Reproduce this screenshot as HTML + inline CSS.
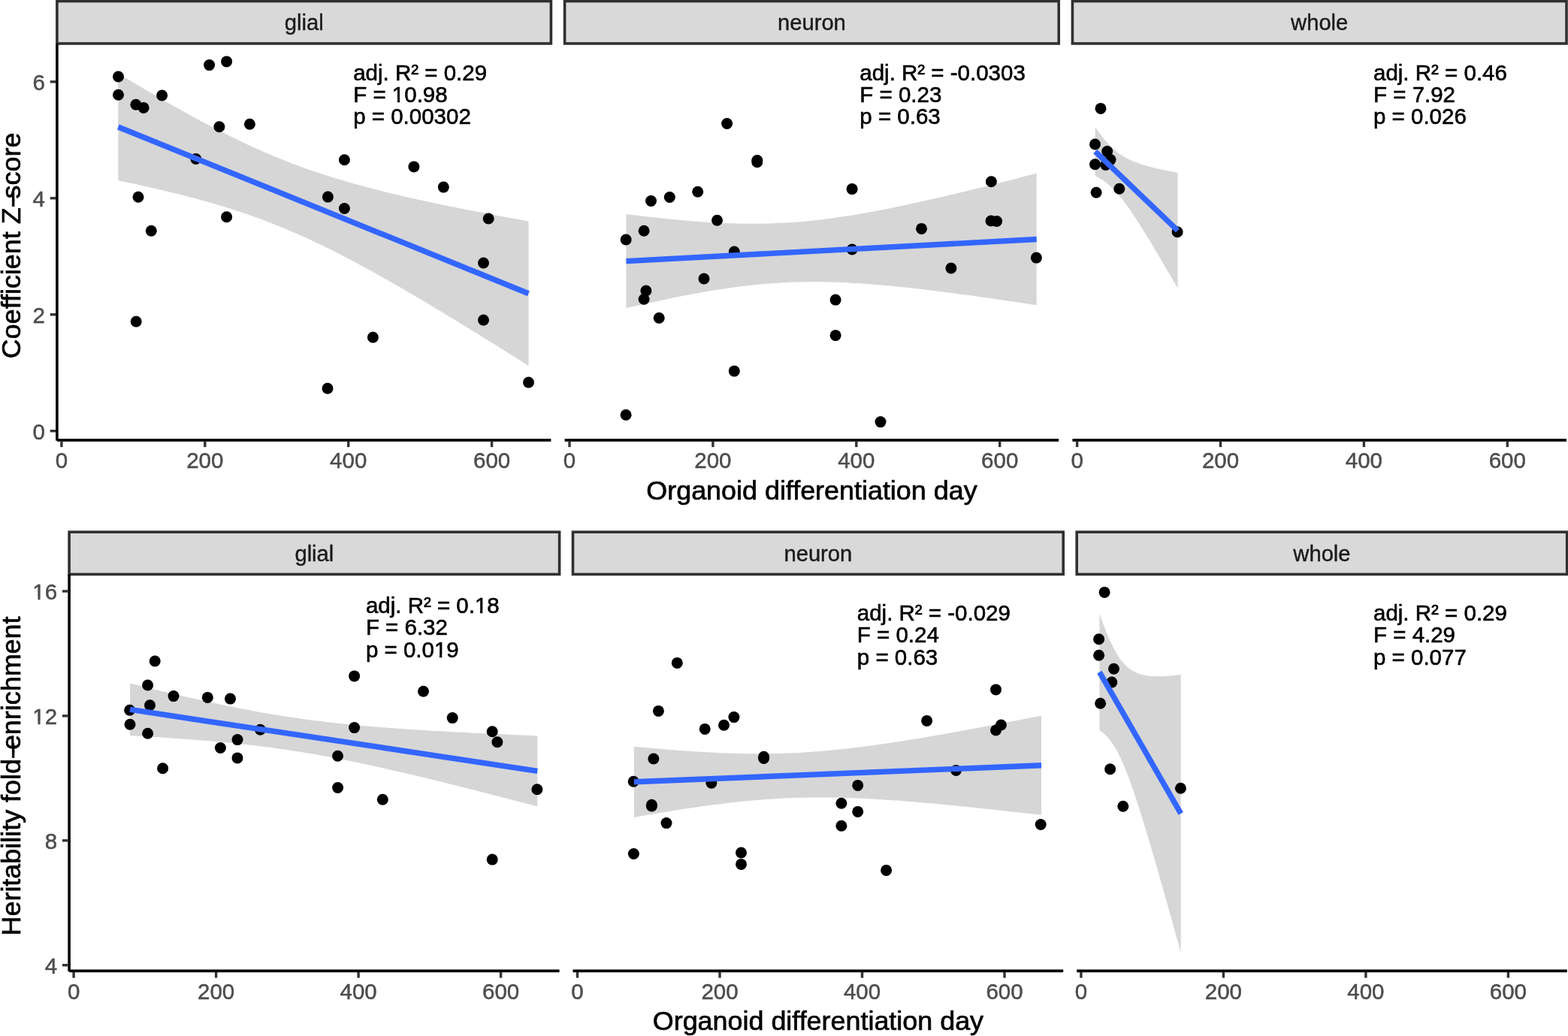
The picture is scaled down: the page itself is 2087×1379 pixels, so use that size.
<!DOCTYPE html>
<html lang="en"><head><meta charset="utf-8"><title>Organoid differentiation day regression panels</title>
<style>
html,body{margin:0;padding:0;background:#fff;}
body{width:2087px;height:1379px;overflow:hidden;}
svg{display:block;font-family:"Liberation Sans",sans-serif;}
</style></head><body>
<svg width="2087" height="1379" viewBox="0 0 2087 1379">
<rect width="2087" height="1379" fill="#fff"/>
<polygon points="157.3,97.8 164.2,101.9 171.1,106.1 178.0,110.2 185.0,114.3 191.9,118.4 198.8,122.5 205.7,126.5 212.6,130.5 219.5,134.5 226.4,138.4 233.4,142.3 240.3,146.2 247.2,150.1 254.1,153.9 261.0,157.7 267.9,161.4 274.8,165.1 281.8,168.7 288.7,172.3 295.6,175.8 302.5,179.3 309.4,182.7 316.3,186.1 323.2,189.4 330.1,192.7 337.1,195.9 344.0,199.0 350.9,202.0 357.8,205.0 364.7,207.9 371.6,210.8 378.5,213.6 385.5,216.3 392.4,218.9 399.3,221.5 406.2,224.0 413.1,226.4 420.0,228.8 426.9,231.1 433.9,233.3 440.8,235.5 447.7,237.7 454.6,239.8 461.5,241.8 468.4,243.8 475.3,245.7 482.3,247.6 489.2,249.4 496.1,251.3 503.0,253.0 509.9,254.8 516.8,256.5 523.7,258.1 530.7,259.8 537.6,261.4 544.5,262.9 551.4,264.5 558.3,266.0 565.2,267.5 572.1,269.0 579.0,270.5 586.0,272.0 592.9,273.4 599.8,274.8 606.7,276.2 613.6,277.6 620.5,278.9 627.4,280.3 634.4,281.6 641.3,283.0 648.2,284.3 655.1,285.6 662.0,286.9 668.9,288.2 675.8,289.5 682.8,290.7 689.7,292.0 696.6,293.3 703.5,294.5 703.5,486.9 696.6,482.5 689.7,478.2 682.8,473.8 675.8,469.5 668.9,465.1 662.0,460.8 655.1,456.5 648.2,452.2 641.3,447.9 634.4,443.6 627.4,439.4 620.5,435.1 613.6,430.9 606.7,426.6 599.8,422.4 592.9,418.2 586.0,414.0 579.0,409.9 572.1,405.7 565.2,401.6 558.3,397.5 551.4,393.4 544.5,389.4 537.6,385.3 530.7,381.3 523.7,377.4 516.8,373.4 509.9,369.5 503.0,365.6 496.1,361.8 489.2,358.0 482.3,354.2 475.3,350.5 468.4,346.8 461.5,343.2 454.6,339.6 447.7,336.1 440.8,332.6 433.9,329.2 426.9,325.8 420.0,322.5 413.1,319.3 406.2,316.1 399.3,313.0 392.4,309.9 385.5,307.0 378.5,304.1 371.6,301.2 364.7,298.5 357.8,295.8 350.9,293.1 344.0,290.6 337.1,288.1 330.1,285.6 323.2,283.3 316.3,281.0 309.4,278.7 302.5,276.5 295.6,274.4 288.7,272.3 281.8,270.3 274.8,268.3 267.9,266.4 261.0,264.5 254.1,262.7 247.2,260.9 240.3,259.1 233.4,257.4 226.4,255.7 219.5,254.0 212.6,252.4 205.7,250.8 198.8,249.2 191.9,247.7 185.0,246.1 178.0,244.6 171.1,243.2 164.2,241.7 157.3,240.2" fill="#d6d6d6"/>
<circle cx="157.5" cy="102.0" r="7.5" fill="#000"/>
<circle cx="157.5" cy="126.3" r="7.5" fill="#000"/>
<circle cx="180.9" cy="139.2" r="7.5" fill="#000"/>
<circle cx="191.1" cy="143.4" r="7.5" fill="#000"/>
<circle cx="215.6" cy="127.0" r="7.5" fill="#000"/>
<circle cx="278.6" cy="86.6" r="7.5" fill="#000"/>
<circle cx="301.6" cy="81.9" r="7.5" fill="#000"/>
<circle cx="291.9" cy="168.7" r="7.5" fill="#000"/>
<circle cx="332.4" cy="165.2" r="7.5" fill="#000"/>
<circle cx="260.7" cy="211.5" r="7.5" fill="#000"/>
<circle cx="184.0" cy="262.3" r="7.5" fill="#000"/>
<circle cx="458.4" cy="212.7" r="7.5" fill="#000"/>
<circle cx="550.9" cy="221.9" r="7.5" fill="#000"/>
<circle cx="590.3" cy="249.1" r="7.5" fill="#000"/>
<circle cx="436.4" cy="262.1" r="7.5" fill="#000"/>
<circle cx="458.4" cy="277.5" r="7.5" fill="#000"/>
<circle cx="201.3" cy="307.2" r="7.5" fill="#000"/>
<circle cx="301.6" cy="288.8" r="7.5" fill="#000"/>
<circle cx="181.2" cy="428.0" r="7.5" fill="#000"/>
<circle cx="650.2" cy="291.0" r="7.5" fill="#000"/>
<circle cx="643.5" cy="350.0" r="7.5" fill="#000"/>
<circle cx="643.5" cy="426.0" r="7.5" fill="#000"/>
<circle cx="496.4" cy="449.0" r="7.5" fill="#000"/>
<circle cx="436.0" cy="517.0" r="7.5" fill="#000"/>
<circle cx="703.5" cy="509.0" r="7.5" fill="#000"/>
<line x1="157.3" y1="169.0" x2="703.5" y2="390.7" stroke="#3366ff" stroke-width="7.4"/>
<rect x="75.9" y="1.55" width="657.5" height="56.4" fill="#d9d9d9" stroke="#303030" stroke-width="3.6"/>
<g transform="translate(404.65,40.00)"><text font-size="29.2" fill="#1a1a1a" stroke="#1a1a1a" stroke-width="0.4" text-anchor="middle">glial</text></g>
<line x1="75.9" y1="585.9" x2="733.4" y2="585.9" stroke="#000" stroke-width="3.6"/>
<line x1="81.9" y1="587.5" x2="81.9" y2="595.1" stroke="#333" stroke-width="3.4"/>
<g transform="translate(81.90,622.80) scale(1,1.03)"><text font-size="29.5" fill="#4d4d4d" stroke="#4d4d4d" stroke-width="0.5" text-anchor="middle">0</text></g>
<line x1="272.8" y1="587.5" x2="272.8" y2="595.1" stroke="#333" stroke-width="3.4"/>
<g transform="translate(272.80,622.80) scale(1,1.03)"><text font-size="29.5" fill="#4d4d4d" stroke="#4d4d4d" stroke-width="0.5" text-anchor="middle">200</text></g>
<line x1="463.7" y1="587.5" x2="463.7" y2="595.1" stroke="#333" stroke-width="3.4"/>
<g transform="translate(463.70,622.80) scale(1,1.03)"><text font-size="29.5" fill="#4d4d4d" stroke="#4d4d4d" stroke-width="0.5" text-anchor="middle">400</text></g>
<line x1="654.6" y1="587.5" x2="654.6" y2="595.1" stroke="#333" stroke-width="3.4"/>
<g transform="translate(654.60,622.80) scale(1,1.03)"><text font-size="29.5" fill="#4d4d4d" stroke="#4d4d4d" stroke-width="0.5" text-anchor="middle">600</text></g>
<g transform="translate(470.20,106.70) scale(1,1.03)"><text font-size="29.5" fill="#000" stroke="#000" stroke-width="0.6" text-anchor="start">adj. R² = 0.29</text></g>
<g transform="translate(470.20,135.60) scale(1,1.03)"><text font-size="29.5" fill="#000" stroke="#000" stroke-width="0.6" text-anchor="start">F = 10.98</text><rect x="52.50" y="-3.76" width="6.16" height="5.31" fill="#fff"/><rect x="61.99" y="-3.76" width="5.93" height="5.31" fill="#fff"/></g>
<g transform="translate(470.20,165.30) scale(1,1.03)"><text font-size="29.5" fill="#000" stroke="#000" stroke-width="0.6" text-anchor="start">p = 0.00302</text></g>
<polygon points="833.4,285.0 840.3,285.9 847.2,286.7 854.1,287.6 861.1,288.4 868.0,289.1 874.9,289.9 881.8,290.6 888.7,291.4 895.6,292.0 902.6,292.7 909.5,293.3 916.4,293.9 923.3,294.5 930.2,295.0 937.1,295.5 944.0,296.0 951.0,296.4 957.9,296.7 964.8,297.0 971.7,297.3 978.6,297.5 985.5,297.7 992.4,297.8 999.4,297.8 1006.3,297.8 1013.2,297.7 1020.1,297.6 1027.0,297.4 1033.9,297.1 1040.9,296.8 1047.8,296.4 1054.7,296.0 1061.6,295.5 1068.5,294.9 1075.4,294.2 1082.3,293.5 1089.3,292.8 1096.2,291.9 1103.1,291.1 1110.0,290.1 1116.9,289.1 1123.8,288.1 1130.8,287.0 1137.7,285.9 1144.6,284.7 1151.5,283.5 1158.4,282.3 1165.3,281.0 1172.2,279.7 1179.2,278.3 1186.1,276.9 1193.0,275.5 1199.9,274.1 1206.8,272.6 1213.7,271.1 1220.7,269.6 1227.6,268.1 1234.5,266.5 1241.4,264.9 1248.3,263.3 1255.2,261.7 1262.1,260.1 1269.1,258.5 1276.0,256.8 1282.9,255.2 1289.8,253.5 1296.7,251.8 1303.6,250.1 1310.5,248.4 1317.5,246.6 1324.4,244.9 1331.3,243.2 1338.2,241.4 1345.1,239.7 1352.0,237.9 1359.0,236.1 1365.9,234.3 1372.8,232.5 1379.7,230.7 1379.7,406.3 1372.8,405.2 1365.9,404.1 1359.0,403.1 1352.0,402.1 1345.1,401.0 1338.2,400.0 1331.3,399.0 1324.4,398.0 1317.5,397.0 1310.5,396.0 1303.6,395.0 1296.7,394.1 1289.8,393.1 1282.9,392.2 1276.0,391.2 1269.1,390.3 1262.1,389.4 1255.2,388.5 1248.3,387.7 1241.4,386.8 1234.5,386.0 1227.6,385.1 1220.7,384.3 1213.7,383.6 1206.8,382.8 1199.9,382.1 1193.0,381.4 1186.1,380.7 1179.2,380.1 1172.2,379.4 1165.3,378.9 1158.4,378.3 1151.5,377.8 1144.6,377.3 1137.7,376.9 1130.8,376.5 1123.8,376.1 1116.9,375.8 1110.0,375.6 1103.1,375.4 1096.2,375.3 1089.3,375.2 1082.3,375.1 1075.4,375.2 1068.5,375.3 1061.6,375.4 1054.7,375.6 1047.8,375.9 1040.9,376.3 1033.9,376.7 1027.0,377.2 1020.1,377.7 1013.2,378.3 1006.3,379.0 999.4,379.7 992.4,380.5 985.5,381.3 978.6,382.2 971.7,383.2 964.8,384.2 957.9,385.2 951.0,386.3 944.0,387.5 937.1,388.6 930.2,389.9 923.3,391.1 916.4,392.4 909.5,393.8 902.6,395.1 895.6,396.5 888.7,397.9 881.8,399.4 874.9,400.9 868.0,402.4 861.1,403.9 854.1,405.4 847.2,407.0 840.3,408.6 833.4,410.2" fill="#d6d6d6"/>
<circle cx="967.6" cy="164.5" r="7.5" fill="#000"/>
<circle cx="1007.8" cy="213.6" r="7.5" fill="#000"/>
<circle cx="1007.8" cy="215.8" r="7.5" fill="#000"/>
<circle cx="928.7" cy="255.3" r="7.5" fill="#000"/>
<circle cx="891.3" cy="262.5" r="7.5" fill="#000"/>
<circle cx="866.5" cy="267.5" r="7.5" fill="#000"/>
<circle cx="1134.1" cy="251.6" r="7.5" fill="#000"/>
<circle cx="1319.4" cy="241.7" r="7.5" fill="#000"/>
<circle cx="954.5" cy="293.3" r="7.5" fill="#000"/>
<circle cx="857.1" cy="307.2" r="7.5" fill="#000"/>
<circle cx="833.2" cy="319.0" r="7.5" fill="#000"/>
<circle cx="977.3" cy="335.0" r="7.5" fill="#000"/>
<circle cx="937.0" cy="371.0" r="7.5" fill="#000"/>
<circle cx="859.9" cy="387.0" r="7.5" fill="#000"/>
<circle cx="857.1" cy="398.3" r="7.5" fill="#000"/>
<circle cx="877.2" cy="423.3" r="7.5" fill="#000"/>
<circle cx="977.3" cy="493.9" r="7.5" fill="#000"/>
<circle cx="1134.1" cy="332.0" r="7.5" fill="#000"/>
<circle cx="1226.5" cy="304.4" r="7.5" fill="#000"/>
<circle cx="1319.0" cy="294.0" r="7.5" fill="#000"/>
<circle cx="1326.6" cy="294.5" r="7.5" fill="#000"/>
<circle cx="1265.9" cy="357.0" r="7.5" fill="#000"/>
<circle cx="1379.4" cy="343.1" r="7.5" fill="#000"/>
<circle cx="1112.1" cy="399.1" r="7.5" fill="#000"/>
<circle cx="1112.1" cy="446.4" r="7.5" fill="#000"/>
<circle cx="833.1" cy="552.3" r="7.5" fill="#000"/>
<circle cx="1172.0" cy="561.6" r="7.5" fill="#000"/>
<line x1="833.4" y1="347.6" x2="1379.7" y2="318.5" stroke="#3366ff" stroke-width="7.4"/>
<rect x="751.6" y="1.55" width="657.6" height="56.4" fill="#d9d9d9" stroke="#303030" stroke-width="3.6"/>
<g transform="translate(1080.40,40.00)"><text font-size="29.2" fill="#1a1a1a" stroke="#1a1a1a" stroke-width="0.4" text-anchor="middle">neuron</text></g>
<line x1="751.6" y1="585.9" x2="1409.2" y2="585.9" stroke="#000" stroke-width="3.6"/>
<line x1="758.0" y1="587.5" x2="758.0" y2="595.1" stroke="#333" stroke-width="3.4"/>
<g transform="translate(758.00,622.80) scale(1,1.03)"><text font-size="29.5" fill="#4d4d4d" stroke="#4d4d4d" stroke-width="0.5" text-anchor="middle">0</text></g>
<line x1="948.9" y1="587.5" x2="948.9" y2="595.1" stroke="#333" stroke-width="3.4"/>
<g transform="translate(948.90,622.80) scale(1,1.03)"><text font-size="29.5" fill="#4d4d4d" stroke="#4d4d4d" stroke-width="0.5" text-anchor="middle">200</text></g>
<line x1="1139.8" y1="587.5" x2="1139.8" y2="595.1" stroke="#333" stroke-width="3.4"/>
<g transform="translate(1139.80,622.80) scale(1,1.03)"><text font-size="29.5" fill="#4d4d4d" stroke="#4d4d4d" stroke-width="0.5" text-anchor="middle">400</text></g>
<line x1="1330.7" y1="587.5" x2="1330.7" y2="595.1" stroke="#333" stroke-width="3.4"/>
<g transform="translate(1330.70,622.80) scale(1,1.03)"><text font-size="29.5" fill="#4d4d4d" stroke="#4d4d4d" stroke-width="0.5" text-anchor="middle">600</text></g>
<g transform="translate(1144.30,106.70) scale(1,1.03)"><text font-size="29.5" fill="#000" stroke="#000" stroke-width="0.6" text-anchor="start">adj. R² = -0.0303</text></g>
<g transform="translate(1144.30,135.60) scale(1,1.03)"><text font-size="29.5" fill="#000" stroke="#000" stroke-width="0.6" text-anchor="start">F = 0.23</text></g>
<g transform="translate(1144.30,165.30) scale(1,1.03)"><text font-size="29.5" fill="#000" stroke="#000" stroke-width="0.6" text-anchor="start">p = 0.63</text></g>
<polygon points="1457.7,169.3 1459.1,171.3 1460.5,173.2 1461.9,175.1 1463.3,177.0 1464.6,178.8 1466.0,180.6 1467.4,182.4 1468.8,184.1 1470.2,185.8 1471.6,187.4 1473.0,189.0 1474.4,190.6 1475.8,192.1 1477.2,193.5 1478.5,194.9 1479.9,196.3 1481.3,197.6 1482.7,198.8 1484.1,200.0 1485.5,201.2 1486.9,202.3 1488.3,203.4 1489.7,204.4 1491.1,205.4 1492.4,206.3 1493.8,207.2 1495.2,208.1 1496.6,208.9 1498.0,209.7 1499.4,210.5 1500.8,211.2 1502.2,211.9 1503.6,212.6 1505.0,213.2 1506.3,213.8 1507.7,214.4 1509.1,215.0 1510.5,215.5 1511.9,216.1 1513.3,216.6 1514.7,217.1 1516.1,217.6 1517.5,218.1 1518.9,218.5 1520.2,219.0 1521.6,219.4 1523.0,219.8 1524.4,220.2 1525.8,220.6 1527.2,221.0 1528.6,221.4 1530.0,221.8 1531.4,222.1 1532.8,222.5 1534.1,222.9 1535.5,223.2 1536.9,223.5 1538.3,223.9 1539.7,224.2 1541.1,224.5 1542.5,224.8 1543.9,225.1 1545.3,225.5 1546.7,225.8 1548.0,226.1 1549.4,226.4 1550.8,226.6 1552.2,226.9 1553.6,227.2 1555.0,227.5 1556.4,227.8 1557.8,228.1 1559.2,228.3 1560.6,228.6 1561.9,228.9 1563.3,229.1 1564.7,229.4 1566.1,229.7 1567.5,229.9 1567.5,383.7 1566.1,381.3 1564.7,378.9 1563.3,376.5 1561.9,374.1 1560.6,371.7 1559.2,369.3 1557.8,366.9 1556.4,364.5 1555.0,362.2 1553.6,359.8 1552.2,357.4 1550.8,355.0 1549.4,352.7 1548.0,350.3 1546.7,347.9 1545.3,345.6 1543.9,343.2 1542.5,340.9 1541.1,338.5 1539.7,336.2 1538.3,333.9 1536.9,331.5 1535.5,329.2 1534.1,326.9 1532.8,324.6 1531.4,322.3 1530.0,320.0 1528.6,317.7 1527.2,315.4 1525.8,313.1 1524.4,310.9 1523.0,308.6 1521.6,306.4 1520.2,304.2 1518.9,302.0 1517.5,299.8 1516.1,297.6 1514.7,295.4 1513.3,293.2 1511.9,291.1 1510.5,289.0 1509.1,286.9 1507.7,284.8 1506.3,282.7 1505.0,280.7 1503.6,278.6 1502.2,276.7 1500.8,274.7 1499.4,272.8 1498.0,270.9 1496.6,269.0 1495.2,267.1 1493.8,265.3 1492.4,263.6 1491.1,261.9 1489.7,260.2 1488.3,258.5 1486.9,257.0 1485.5,255.4 1484.1,253.9 1482.7,252.5 1481.3,251.0 1479.9,249.7 1478.5,248.4 1477.2,247.1 1475.8,245.9 1474.4,244.8 1473.0,243.6 1471.6,242.6 1470.2,241.6 1468.8,240.6 1467.4,239.6 1466.0,238.7 1464.6,237.9 1463.3,237.1 1461.9,236.3 1460.5,235.5 1459.1,234.8 1457.7,234.1" fill="#d6d6d6"/>
<circle cx="1465.0" cy="144.4" r="7.5" fill="#000"/>
<circle cx="1457.5" cy="192.0" r="7.5" fill="#000"/>
<circle cx="1473.7" cy="201.6" r="7.5" fill="#000"/>
<circle cx="1478.0" cy="212.6" r="7.5" fill="#000"/>
<circle cx="1457.5" cy="218.8" r="7.5" fill="#000"/>
<circle cx="1471.7" cy="219.5" r="7.5" fill="#000"/>
<circle cx="1459.1" cy="256.2" r="7.5" fill="#000"/>
<circle cx="1489.8" cy="251.3" r="7.5" fill="#000"/>
<circle cx="1567.1" cy="308.8" r="7.5" fill="#000"/>
<line x1="1457.7" y1="201.7" x2="1567.5" y2="306.8" stroke="#3366ff" stroke-width="7.4"/>
<rect x="1427.4" y="1.55" width="657.6" height="56.4" fill="#d9d9d9" stroke="#303030" stroke-width="3.6"/>
<g transform="translate(1756.20,40.00)"><text font-size="29.2" fill="#1a1a1a" stroke="#1a1a1a" stroke-width="0.4" text-anchor="middle">whole</text></g>
<line x1="1427.4" y1="585.9" x2="2085.0" y2="585.9" stroke="#000" stroke-width="3.6"/>
<line x1="1433.6" y1="587.5" x2="1433.6" y2="595.1" stroke="#333" stroke-width="3.4"/>
<g transform="translate(1433.60,622.80) scale(1,1.03)"><text font-size="29.5" fill="#4d4d4d" stroke="#4d4d4d" stroke-width="0.5" text-anchor="middle">0</text></g>
<line x1="1624.5" y1="587.5" x2="1624.5" y2="595.1" stroke="#333" stroke-width="3.4"/>
<g transform="translate(1624.50,622.80) scale(1,1.03)"><text font-size="29.5" fill="#4d4d4d" stroke="#4d4d4d" stroke-width="0.5" text-anchor="middle">200</text></g>
<line x1="1815.4" y1="587.5" x2="1815.4" y2="595.1" stroke="#333" stroke-width="3.4"/>
<g transform="translate(1815.40,622.80) scale(1,1.03)"><text font-size="29.5" fill="#4d4d4d" stroke="#4d4d4d" stroke-width="0.5" text-anchor="middle">400</text></g>
<line x1="2006.3" y1="587.5" x2="2006.3" y2="595.1" stroke="#333" stroke-width="3.4"/>
<g transform="translate(2006.30,622.80) scale(1,1.03)"><text font-size="29.5" fill="#4d4d4d" stroke="#4d4d4d" stroke-width="0.5" text-anchor="middle">600</text></g>
<g transform="translate(1828.00,106.70) scale(1,1.03)"><text font-size="29.5" fill="#000" stroke="#000" stroke-width="0.6" text-anchor="start">adj. R² = 0.46</text></g>
<g transform="translate(1828.00,135.60) scale(1,1.03)"><text font-size="29.5" fill="#000" stroke="#000" stroke-width="0.6" text-anchor="start">F = 7.92</text></g>
<g transform="translate(1828.00,165.30) scale(1,1.03)"><text font-size="29.5" fill="#000" stroke="#000" stroke-width="0.6" text-anchor="start">p = 0.026</text></g>
<line x1="75.9" y1="57.9" x2="75.9" y2="586.5" stroke="#000" stroke-width="3.6"/>
<line x1="66.7" y1="573.65" x2="74.3" y2="573.65" stroke="#333" stroke-width="3.4"/>
<g transform="translate(59.90,584.95) scale(1,1.03)"><text font-size="29.5" fill="#4d4d4d" stroke="#4d4d4d" stroke-width="0.5" text-anchor="end">0</text></g>
<line x1="66.7" y1="418.7" x2="74.3" y2="418.7" stroke="#333" stroke-width="3.4"/>
<g transform="translate(59.90,430.00) scale(1,1.03)"><text font-size="29.5" fill="#4d4d4d" stroke="#4d4d4d" stroke-width="0.5" text-anchor="end">2</text></g>
<line x1="66.7" y1="263.8" x2="74.3" y2="263.8" stroke="#333" stroke-width="3.4"/>
<g transform="translate(59.90,275.10) scale(1,1.03)"><text font-size="29.5" fill="#4d4d4d" stroke="#4d4d4d" stroke-width="0.5" text-anchor="end">4</text></g>
<line x1="66.7" y1="108.85" x2="74.3" y2="108.85" stroke="#333" stroke-width="3.4"/>
<g transform="translate(59.90,120.15) scale(1,1.03)"><text font-size="29.5" fill="#4d4d4d" stroke="#4d4d4d" stroke-width="0.5" text-anchor="end">6</text></g>
<g transform="translate(27.20,326.90) rotate(-90)"><text class="yt" font-size="35.9" fill="#000" stroke="#000" stroke-width="0.7" text-anchor="middle">Coefficient Z-score</text><rect x="59.52" y="-11.15" width="11.85" height="3.20" fill="#000"/></g>
<g transform="translate(1080.45,664.60)"><text font-size="35.9" fill="#000" stroke="#000" stroke-width="0.7" text-anchor="middle">Organoid differentiation day</text></g>
<polygon points="173.1,909.6 180.0,911.3 186.8,913.0 193.7,914.7 200.6,916.4 207.4,918.0 214.3,919.7 221.1,921.3 228.0,922.9 234.9,924.6 241.7,926.2 248.6,927.7 255.5,929.3 262.3,930.8 269.2,932.4 276.0,933.9 282.9,935.4 289.8,936.8 296.6,938.3 303.5,939.7 310.4,941.1 317.2,942.5 324.1,943.8 331.0,945.1 337.8,946.4 344.7,947.7 351.5,948.9 358.4,950.1 365.3,951.2 372.1,952.3 379.0,953.4 385.9,954.5 392.7,955.5 399.6,956.5 406.5,957.5 413.3,958.4 420.2,959.3 427.0,960.1 433.9,960.9 440.8,961.7 447.6,962.5 454.5,963.2 461.4,964.0 468.2,964.6 475.1,965.3 481.9,965.9 488.8,966.5 495.7,967.1 502.5,967.7 509.4,968.2 516.3,968.8 523.1,969.3 530.0,969.8 536.9,970.3 543.7,970.7 550.6,971.2 557.4,971.6 564.3,972.0 571.2,972.5 578.0,972.9 584.9,973.3 591.8,973.6 598.6,974.0 605.5,974.4 612.4,974.7 619.2,975.1 626.1,975.4 632.9,975.8 639.8,976.1 646.7,976.4 653.5,976.7 660.4,977.0 667.3,977.3 674.1,977.6 681.0,977.9 687.8,978.2 694.7,978.5 701.6,978.8 708.4,979.1 715.3,979.4 715.3,1073.4 708.4,1071.6 701.6,1069.8 694.7,1068.1 687.8,1066.3 681.0,1064.5 674.1,1062.7 667.3,1060.9 660.4,1059.2 653.5,1057.4 646.7,1055.6 639.8,1053.9 632.9,1052.1 626.1,1050.4 619.2,1048.7 612.4,1046.9 605.5,1045.2 598.6,1043.5 591.8,1041.8 584.9,1040.1 578.0,1038.4 571.2,1036.7 564.3,1035.1 557.4,1033.4 550.6,1031.8 543.7,1030.2 536.9,1028.6 530.0,1027.0 523.1,1025.4 516.3,1023.8 509.4,1022.3 502.5,1020.8 495.7,1019.2 488.8,1017.8 481.9,1016.3 475.1,1014.8 468.2,1013.4 461.4,1012.0 454.5,1010.7 447.6,1009.3 440.8,1008.0 433.9,1006.7 427.0,1005.5 420.2,1004.3 413.3,1003.1 406.5,1001.9 399.6,1000.8 392.7,999.7 385.9,998.7 379.0,997.6 372.1,996.7 365.3,995.7 358.4,994.8 351.5,993.9 344.7,993.0 337.8,992.2 331.0,991.4 324.1,990.7 317.2,989.9 310.4,989.2 303.5,988.5 296.6,987.9 289.8,987.3 282.9,986.6 276.0,986.1 269.2,985.5 262.3,984.9 255.5,984.4 248.6,983.9 241.7,983.4 234.9,982.9 228.0,982.5 221.1,982.0 214.3,981.6 207.4,981.1 200.6,980.7 193.7,980.3 186.8,979.9 180.0,979.6 173.1,979.2" fill="#d6d6d6"/>
<circle cx="206.2" cy="880.0" r="7.5" fill="#000"/>
<circle cx="196.6" cy="912.0" r="7.5" fill="#000"/>
<circle cx="231.0" cy="926.6" r="7.5" fill="#000"/>
<circle cx="276.3" cy="928.4" r="7.5" fill="#000"/>
<circle cx="306.5" cy="930.1" r="7.5" fill="#000"/>
<circle cx="199.5" cy="938.8" r="7.5" fill="#000"/>
<circle cx="172.6" cy="945.2" r="7.5" fill="#000"/>
<circle cx="173.0" cy="964.3" r="7.5" fill="#000"/>
<circle cx="196.6" cy="976.2" r="7.5" fill="#000"/>
<circle cx="346.4" cy="971.2" r="7.5" fill="#000"/>
<circle cx="316.0" cy="984.6" r="7.5" fill="#000"/>
<circle cx="293.4" cy="995.5" r="7.5" fill="#000"/>
<circle cx="316.0" cy="1008.9" r="7.5" fill="#000"/>
<circle cx="216.6" cy="1022.8" r="7.5" fill="#000"/>
<circle cx="471.6" cy="899.9" r="7.5" fill="#000"/>
<circle cx="563.5" cy="920.2" r="7.5" fill="#000"/>
<circle cx="602.2" cy="955.6" r="7.5" fill="#000"/>
<circle cx="471.6" cy="968.6" r="7.5" fill="#000"/>
<circle cx="655.2" cy="973.8" r="7.5" fill="#000"/>
<circle cx="661.9" cy="987.7" r="7.5" fill="#000"/>
<circle cx="449.5" cy="1006.2" r="7.5" fill="#000"/>
<circle cx="449.6" cy="1048.5" r="7.5" fill="#000"/>
<circle cx="509.3" cy="1064.3" r="7.5" fill="#000"/>
<circle cx="714.9" cy="1050.7" r="7.5" fill="#000"/>
<circle cx="655.2" cy="1144.1" r="7.5" fill="#000"/>
<line x1="173.1" y1="944.4" x2="715.3" y2="1026.4" stroke="#3366ff" stroke-width="7.4"/>
<rect x="92.1" y="708.15" width="652.5" height="56.3" fill="#d9d9d9" stroke="#303030" stroke-width="3.6"/>
<g transform="translate(418.35,747.00)"><text font-size="29.2" fill="#1a1a1a" stroke="#1a1a1a" stroke-width="0.4" text-anchor="middle">glial</text></g>
<line x1="92.1" y1="1292.4" x2="744.6" y2="1292.4" stroke="#000" stroke-width="3.6"/>
<line x1="98.1" y1="1294.0" x2="98.1" y2="1301.6" stroke="#333" stroke-width="3.4"/>
<g transform="translate(98.10,1329.60) scale(1,1.03)"><text font-size="29.5" fill="#4d4d4d" stroke="#4d4d4d" stroke-width="0.5" text-anchor="middle">0</text></g>
<line x1="287.6" y1="1294.0" x2="287.6" y2="1301.6" stroke="#333" stroke-width="3.4"/>
<g transform="translate(287.60,1329.60) scale(1,1.03)"><text font-size="29.5" fill="#4d4d4d" stroke="#4d4d4d" stroke-width="0.5" text-anchor="middle">200</text></g>
<line x1="477.1" y1="1294.0" x2="477.1" y2="1301.6" stroke="#333" stroke-width="3.4"/>
<g transform="translate(477.10,1329.60) scale(1,1.03)"><text font-size="29.5" fill="#4d4d4d" stroke="#4d4d4d" stroke-width="0.5" text-anchor="middle">400</text></g>
<line x1="666.6" y1="1294.0" x2="666.6" y2="1301.6" stroke="#333" stroke-width="3.4"/>
<g transform="translate(666.60,1329.60) scale(1,1.03)"><text font-size="29.5" fill="#4d4d4d" stroke="#4d4d4d" stroke-width="0.5" text-anchor="middle">600</text></g>
<g transform="translate(486.90,816.10) scale(1,1.03)"><text font-size="29.5" fill="#000" stroke="#000" stroke-width="0.6" text-anchor="start">adj. R² = 0.18</text><rect x="145.95" y="-3.76" width="6.16" height="5.31" fill="#fff"/><rect x="155.44" y="-3.76" width="5.93" height="5.31" fill="#fff"/></g>
<g transform="translate(486.90,845.40) scale(1,1.03)"><text font-size="29.5" fill="#000" stroke="#000" stroke-width="0.6" text-anchor="start">F = 6.32</text></g>
<g transform="translate(486.90,875.10) scale(1,1.03)"><text font-size="29.5" fill="#000" stroke="#000" stroke-width="0.6" text-anchor="start">p = 0.019</text><rect x="91.89" y="-3.76" width="6.16" height="5.31" fill="#fff"/><rect x="101.38" y="-3.76" width="5.93" height="5.31" fill="#fff"/></g>
<polygon points="843.9,993.7 850.8,994.4 857.6,995.0 864.5,995.6 871.3,996.2 878.2,996.8 885.1,997.4 891.9,997.9 898.8,998.5 905.7,999.0 912.5,999.5 919.4,1000.0 926.2,1000.4 933.1,1000.8 940.0,1001.2 946.8,1001.6 953.7,1001.9 960.6,1002.2 967.4,1002.5 974.3,1002.7 981.1,1002.9 988.0,1003.1 994.9,1003.2 1001.7,1003.3 1008.6,1003.3 1015.5,1003.3 1022.3,1003.2 1029.2,1003.1 1036.0,1003.0 1042.9,1002.8 1049.8,1002.5 1056.6,1002.2 1063.5,1001.9 1070.3,1001.5 1077.2,1001.0 1084.1,1000.5 1090.9,1000.0 1097.8,999.4 1104.7,998.8 1111.5,998.1 1118.4,997.4 1125.2,996.7 1132.1,995.9 1139.0,995.1 1145.8,994.2 1152.7,993.3 1159.6,992.4 1166.4,991.5 1173.3,990.5 1180.1,989.5 1187.0,988.5 1193.9,987.4 1200.7,986.4 1207.6,985.3 1214.4,984.2 1221.3,983.0 1228.2,981.9 1235.0,980.7 1241.9,979.6 1248.8,978.4 1255.6,977.2 1262.5,975.9 1269.3,974.7 1276.2,973.5 1283.1,972.2 1289.9,971.0 1296.8,969.7 1303.7,968.4 1310.5,967.1 1317.4,965.8 1324.2,964.5 1331.1,963.2 1338.0,961.9 1344.8,960.6 1351.7,959.3 1358.6,957.9 1365.4,956.6 1372.3,955.3 1379.1,953.9 1386.0,952.6 1386.0,1084.8 1379.1,1084.1 1372.3,1083.3 1365.4,1082.5 1358.6,1081.7 1351.7,1080.9 1344.8,1080.2 1338.0,1079.4 1331.1,1078.6 1324.2,1077.9 1317.4,1077.1 1310.5,1076.4 1303.7,1075.7 1296.8,1075.0 1289.9,1074.3 1283.1,1073.6 1276.2,1072.9 1269.3,1072.2 1262.5,1071.5 1255.6,1070.9 1248.8,1070.2 1241.9,1069.6 1235.0,1069.0 1228.2,1068.4 1221.3,1067.8 1214.4,1067.2 1207.6,1066.7 1200.7,1066.1 1193.9,1065.6 1187.0,1065.2 1180.1,1064.7 1173.3,1064.2 1166.4,1063.8 1159.6,1063.4 1152.7,1063.1 1145.8,1062.8 1139.0,1062.5 1132.1,1062.2 1125.2,1062.0 1118.4,1061.8 1111.5,1061.7 1104.7,1061.5 1097.8,1061.5 1090.9,1061.5 1084.1,1061.5 1077.2,1061.6 1070.3,1061.7 1063.5,1061.8 1056.6,1062.0 1049.8,1062.3 1042.9,1062.6 1036.0,1063.0 1029.2,1063.4 1022.3,1063.8 1015.5,1064.3 1008.6,1064.9 1001.7,1065.5 994.9,1066.1 988.0,1066.8 981.1,1067.5 974.3,1068.3 967.4,1069.0 960.6,1069.9 953.7,1070.7 946.8,1071.6 940.0,1072.6 933.1,1073.5 926.2,1074.5 919.4,1075.5 912.5,1076.5 905.7,1077.6 898.8,1078.6 891.9,1079.7 885.1,1080.9 878.2,1082.0 871.3,1083.1 864.5,1084.3 857.6,1085.5 850.8,1086.7 843.9,1087.9" fill="#d6d6d6"/>
<circle cx="901.3" cy="882.4" r="7.5" fill="#000"/>
<circle cx="876.4" cy="946.4" r="7.5" fill="#000"/>
<circle cx="976.9" cy="954.6" r="7.5" fill="#000"/>
<circle cx="963.5" cy="965.2" r="7.5" fill="#000"/>
<circle cx="938.2" cy="970.4" r="7.5" fill="#000"/>
<circle cx="869.9" cy="1010.0" r="7.5" fill="#000"/>
<circle cx="1016.6" cy="1007.3" r="7.5" fill="#000"/>
<circle cx="1016.6" cy="1009.5" r="7.5" fill="#000"/>
<circle cx="843.2" cy="1040.2" r="7.5" fill="#000"/>
<circle cx="946.9" cy="1042.2" r="7.5" fill="#000"/>
<circle cx="867.4" cy="1071.3" r="7.5" fill="#000"/>
<circle cx="867.4" cy="1073.0" r="7.5" fill="#000"/>
<circle cx="887.0" cy="1095.6" r="7.5" fill="#000"/>
<circle cx="843.4" cy="1136.5" r="7.5" fill="#000"/>
<circle cx="986.5" cy="1135.0" r="7.5" fill="#000"/>
<circle cx="986.5" cy="1150.4" r="7.5" fill="#000"/>
<circle cx="1325.5" cy="917.9" r="7.5" fill="#000"/>
<circle cx="1233.6" cy="959.4" r="7.5" fill="#000"/>
<circle cx="1332.4" cy="965.0" r="7.5" fill="#000"/>
<circle cx="1325.5" cy="972.0" r="7.5" fill="#000"/>
<circle cx="1272.5" cy="1025.4" r="7.5" fill="#000"/>
<circle cx="1141.7" cy="1045.4" r="7.5" fill="#000"/>
<circle cx="1119.9" cy="1069.3" r="7.5" fill="#000"/>
<circle cx="1141.7" cy="1080.4" r="7.5" fill="#000"/>
<circle cx="1119.9" cy="1099.2" r="7.5" fill="#000"/>
<circle cx="1385.2" cy="1097.5" r="7.5" fill="#000"/>
<circle cx="1179.6" cy="1158.4" r="7.5" fill="#000"/>
<line x1="843.9" y1="1040.8" x2="1386.0" y2="1018.7" stroke="#3366ff" stroke-width="7.4"/>
<rect x="762.5" y="708.15" width="652.7" height="56.3" fill="#d9d9d9" stroke="#303030" stroke-width="3.6"/>
<g transform="translate(1088.85,747.00)"><text font-size="29.2" fill="#1a1a1a" stroke="#1a1a1a" stroke-width="0.4" text-anchor="middle">neuron</text></g>
<line x1="762.5" y1="1292.4" x2="1415.2" y2="1292.4" stroke="#000" stroke-width="3.6"/>
<line x1="768.5" y1="1294.0" x2="768.5" y2="1301.6" stroke="#333" stroke-width="3.4"/>
<g transform="translate(768.50,1329.60) scale(1,1.03)"><text font-size="29.5" fill="#4d4d4d" stroke="#4d4d4d" stroke-width="0.5" text-anchor="middle">0</text></g>
<line x1="958.0" y1="1294.0" x2="958.0" y2="1301.6" stroke="#333" stroke-width="3.4"/>
<g transform="translate(958.00,1329.60) scale(1,1.03)"><text font-size="29.5" fill="#4d4d4d" stroke="#4d4d4d" stroke-width="0.5" text-anchor="middle">200</text></g>
<line x1="1147.5" y1="1294.0" x2="1147.5" y2="1301.6" stroke="#333" stroke-width="3.4"/>
<g transform="translate(1147.50,1329.60) scale(1,1.03)"><text font-size="29.5" fill="#4d4d4d" stroke="#4d4d4d" stroke-width="0.5" text-anchor="middle">400</text></g>
<line x1="1337.0" y1="1294.0" x2="1337.0" y2="1301.6" stroke="#333" stroke-width="3.4"/>
<g transform="translate(1337.00,1329.60) scale(1,1.03)"><text font-size="29.5" fill="#4d4d4d" stroke="#4d4d4d" stroke-width="0.5" text-anchor="middle">600</text></g>
<g transform="translate(1140.80,825.60) scale(1,1.03)"><text font-size="29.5" fill="#000" stroke="#000" stroke-width="0.6" text-anchor="start">adj. R² = -0.029</text></g>
<g transform="translate(1140.80,855.10) scale(1,1.03)"><text font-size="29.5" fill="#000" stroke="#000" stroke-width="0.6" text-anchor="start">F = 0.24</text></g>
<g transform="translate(1140.80,884.80) scale(1,1.03)"><text font-size="29.5" fill="#000" stroke="#000" stroke-width="0.6" text-anchor="start">p = 0.63</text></g>
<polygon points="1463.4,816.9 1464.8,820.8 1466.1,824.6 1467.5,828.3 1468.9,832.0 1470.3,835.6 1471.6,839.1 1473.0,842.5 1474.4,845.8 1475.7,849.0 1477.1,852.1 1478.5,855.1 1479.9,858.0 1481.2,860.7 1482.6,863.4 1484.0,865.9 1485.3,868.4 1486.7,870.7 1488.1,872.8 1489.4,874.9 1490.8,876.9 1492.2,878.7 1493.6,880.5 1494.9,882.1 1496.3,883.6 1497.7,885.1 1499.0,886.4 1500.4,887.6 1501.8,888.8 1503.2,889.9 1504.5,890.9 1505.9,891.8 1507.3,892.7 1508.6,893.5 1510.0,894.2 1511.4,894.9 1512.8,895.5 1514.1,896.0 1515.5,896.6 1516.9,897.0 1518.2,897.5 1519.6,897.9 1521.0,898.2 1522.3,898.5 1523.7,898.8 1525.1,899.1 1526.5,899.3 1527.8,899.5 1529.2,899.7 1530.6,899.8 1531.9,900.0 1533.3,900.1 1534.7,900.2 1536.1,900.2 1537.4,900.3 1538.8,900.3 1540.2,900.3 1541.5,900.3 1542.9,900.3 1544.3,900.3 1545.7,900.3 1547.0,900.2 1548.4,900.2 1549.8,900.1 1551.1,900.0 1552.5,899.9 1553.9,899.8 1555.2,899.7 1556.6,899.6 1558.0,899.5 1559.4,899.3 1560.7,899.2 1562.1,899.0 1563.5,898.9 1564.8,898.7 1566.2,898.6 1567.6,898.4 1569.0,898.2 1570.3,898.0 1571.7,897.8 1571.7,1268.0 1570.3,1263.0 1569.0,1258.1 1567.6,1253.1 1566.2,1248.2 1564.8,1243.2 1563.5,1238.3 1562.1,1233.4 1560.7,1228.5 1559.4,1223.6 1558.0,1218.7 1556.6,1213.8 1555.2,1208.9 1553.9,1204.0 1552.5,1199.1 1551.1,1194.3 1549.8,1189.4 1548.4,1184.6 1547.0,1179.8 1545.7,1175.0 1544.3,1170.2 1542.9,1165.4 1541.5,1160.6 1540.2,1155.8 1538.8,1151.1 1537.4,1146.3 1536.1,1141.6 1534.7,1136.9 1533.3,1132.2 1531.9,1127.6 1530.6,1122.9 1529.2,1118.3 1527.8,1113.7 1526.5,1109.2 1525.1,1104.6 1523.7,1100.1 1522.3,1095.6 1521.0,1091.2 1519.6,1086.8 1518.2,1082.4 1516.9,1078.1 1515.5,1073.8 1514.1,1069.5 1512.8,1065.3 1511.4,1061.2 1510.0,1057.1 1508.6,1053.1 1507.3,1049.1 1505.9,1045.2 1504.5,1041.3 1503.2,1037.6 1501.8,1033.9 1500.4,1030.3 1499.0,1026.7 1497.7,1023.3 1496.3,1020.0 1494.9,1016.7 1493.6,1013.6 1492.2,1010.6 1490.8,1007.7 1489.4,1004.9 1488.1,1002.2 1486.7,999.6 1485.3,997.1 1484.0,994.8 1482.6,992.5 1481.2,990.4 1479.9,988.4 1478.5,986.6 1477.1,984.8 1475.7,983.1 1474.4,981.6 1473.0,980.1 1471.6,978.7 1470.3,977.4 1468.9,976.3 1467.5,975.2 1466.1,974.1 1464.8,973.2 1463.4,972.3" fill="#d6d6d6"/>
<circle cx="1470.1" cy="788.4" r="7.5" fill="#000"/>
<circle cx="1462.6" cy="850.7" r="7.5" fill="#000"/>
<circle cx="1462.6" cy="872.3" r="7.5" fill="#000"/>
<circle cx="1482.5" cy="890.3" r="7.5" fill="#000"/>
<circle cx="1479.8" cy="908.1" r="7.5" fill="#000"/>
<circle cx="1464.6" cy="936.2" r="7.5" fill="#000"/>
<circle cx="1477.6" cy="1023.7" r="7.5" fill="#000"/>
<circle cx="1494.8" cy="1073.2" r="7.5" fill="#000"/>
<circle cx="1571.4" cy="1049.2" r="7.5" fill="#000"/>
<line x1="1463.4" y1="894.6" x2="1571.7" y2="1082.9" stroke="#3366ff" stroke-width="7.4"/>
<rect x="1433.2" y="708.15" width="652.5" height="56.3" fill="#d9d9d9" stroke="#303030" stroke-width="3.6"/>
<g transform="translate(1759.45,747.00)"><text font-size="29.2" fill="#1a1a1a" stroke="#1a1a1a" stroke-width="0.4" text-anchor="middle">whole</text></g>
<line x1="1433.2" y1="1292.4" x2="2085.7" y2="1292.4" stroke="#000" stroke-width="3.6"/>
<line x1="1438.9" y1="1294.0" x2="1438.9" y2="1301.6" stroke="#333" stroke-width="3.4"/>
<g transform="translate(1438.90,1329.60) scale(1,1.03)"><text font-size="29.5" fill="#4d4d4d" stroke="#4d4d4d" stroke-width="0.5" text-anchor="middle">0</text></g>
<line x1="1628.4" y1="1294.0" x2="1628.4" y2="1301.6" stroke="#333" stroke-width="3.4"/>
<g transform="translate(1628.40,1329.60) scale(1,1.03)"><text font-size="29.5" fill="#4d4d4d" stroke="#4d4d4d" stroke-width="0.5" text-anchor="middle">200</text></g>
<line x1="1817.9" y1="1294.0" x2="1817.9" y2="1301.6" stroke="#333" stroke-width="3.4"/>
<g transform="translate(1817.90,1329.60) scale(1,1.03)"><text font-size="29.5" fill="#4d4d4d" stroke="#4d4d4d" stroke-width="0.5" text-anchor="middle">400</text></g>
<line x1="2007.4" y1="1294.0" x2="2007.4" y2="1301.6" stroke="#333" stroke-width="3.4"/>
<g transform="translate(2007.40,1329.60) scale(1,1.03)"><text font-size="29.5" fill="#4d4d4d" stroke="#4d4d4d" stroke-width="0.5" text-anchor="middle">600</text></g>
<g transform="translate(1828.00,825.50) scale(1,1.03)"><text font-size="29.5" fill="#000" stroke="#000" stroke-width="0.6" text-anchor="start">adj. R² = 0.29</text></g>
<g transform="translate(1828.00,855.20) scale(1,1.03)"><text font-size="29.5" fill="#000" stroke="#000" stroke-width="0.6" text-anchor="start">F = 4.29</text></g>
<g transform="translate(1828.00,884.50) scale(1,1.03)"><text font-size="29.5" fill="#000" stroke="#000" stroke-width="0.6" text-anchor="start">p = 0.077</text></g>
<line x1="92.1" y1="764.45" x2="92.1" y2="1293.0" stroke="#000" stroke-width="3.6"/>
<line x1="82.9" y1="1284.7" x2="90.5" y2="1284.7" stroke="#333" stroke-width="3.4"/>
<g transform="translate(76.10,1296.00) scale(1,1.03)"><text font-size="29.5" fill="#4d4d4d" stroke="#4d4d4d" stroke-width="0.5" text-anchor="end">4</text></g>
<line x1="82.9" y1="1118.8" x2="90.5" y2="1118.8" stroke="#333" stroke-width="3.4"/>
<g transform="translate(76.10,1130.10) scale(1,1.03)"><text font-size="29.5" fill="#4d4d4d" stroke="#4d4d4d" stroke-width="0.5" text-anchor="end">8</text></g>
<line x1="82.9" y1="952.9" x2="90.5" y2="952.9" stroke="#333" stroke-width="3.4"/>
<g transform="translate(76.10,964.20) scale(1,1.03)"><text font-size="29.5" fill="#4d4d4d" stroke="#4d4d4d" stroke-width="0.5" text-anchor="end">12</text><rect x="-31.87" y="-3.71" width="6.16" height="5.21" fill="#fff"/><rect x="-22.48" y="-3.71" width="5.93" height="5.21" fill="#fff"/></g>
<line x1="82.9" y1="786.95" x2="90.5" y2="786.95" stroke="#333" stroke-width="3.4"/>
<g transform="translate(76.10,798.25) scale(1,1.03)"><text font-size="29.5" fill="#4d4d4d" stroke="#4d4d4d" stroke-width="0.5" text-anchor="end">16</text><rect x="-31.87" y="-3.71" width="6.16" height="5.21" fill="#fff"/><rect x="-22.48" y="-3.71" width="5.93" height="5.21" fill="#fff"/></g>
<g transform="translate(27.20,1033.00) rotate(-90)"><text class="yt" font-size="35.9" fill="#000" stroke="#000" stroke-width="0.7" text-anchor="middle">Heritability fold-enrichment</text><rect x="31.91" y="-11.15" width="11.85" height="3.20" fill="#000"/></g>
<g transform="translate(1088.90,1370.80)"><text font-size="35.9" fill="#000" stroke="#000" stroke-width="0.7" text-anchor="middle">Organoid differentiation day</text></g>
</svg>
</body></html>
